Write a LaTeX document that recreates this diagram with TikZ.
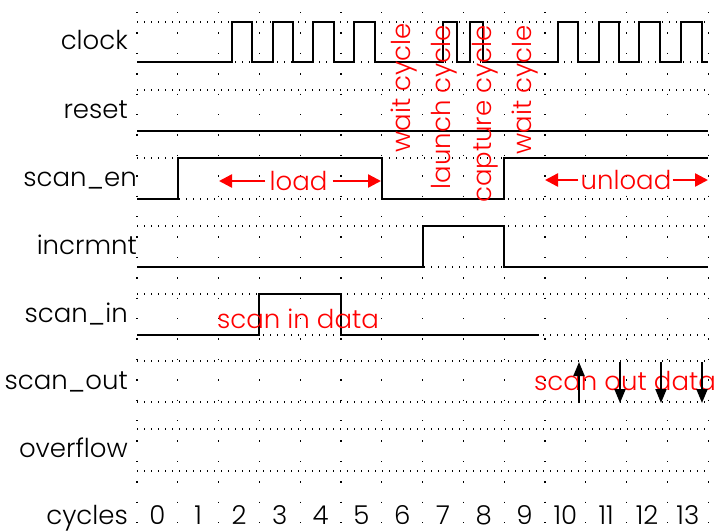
\documentclass[tikz,border=0pt]{standalone}
\usepackage{fontspec}
\IfFontExistsTF{Poppins Light}{\setmainfont{Poppins Light}}{\setmainfont{Poppins}}
\usetikzlibrary{arrows.meta}
\begin{document}
\begin{tikzpicture}[x=1pt,y=-1pt,
  sig/.style={line width=2.4pt, line join=miter},
  hgrid/.style={line width=1.2pt, dash pattern=on 1.2pt off 5.8pt},
  vgrid/.style={line width=1.3pt, dash pattern=on 1.4pt off 19pt},
  lbl/.style={anchor=base east, inner sep=0pt, font=\fontsize{26}{30}\selectfont},
  num/.style={anchor=base, inner sep=0pt, font=\fontsize{26}{30}\selectfont},
  rtext/.style={text=red, inner sep=0pt, font=\fontsize{26}{30}\selectfont},
  rarrow/.style={red, line width=2.4pt, -{Triangle[length=13pt,width=13pt]}},
  barrow/.style={line width=2pt, -{Triangle[length=14pt,width=11pt]}}]
\useasboundingbox (0,0) rectangle (720,531);
% grid
\foreach \i in {0,...,14} \draw[vgrid] ({137+40.8*\i},12) -- ({137+40.8*\i},528);
\foreach \y in {22,62,90,131,158,199,226,267,294,335,361,402,429,471}
  \draw[hgrid] (137,\y) -- (708,\y);
% labels
\node[lbl] (lclock) at (128,49.5) {clock};
\node[lbl] (lreset) at (128,118) {reset};
\node[lbl] (lscanen) at (137,186) {scan\_en};
\node[lbl] (lincr) at (137,254) {incrmnt};
\node[lbl] (lscanin) at (128,322.5) {scan\_in};
\node[lbl] (lscanout) at (128,389) {scan\_out};
\node[lbl] (loverflow) at (128,457.5) {overflow};
\node[lbl] (lcycles) at (128,524) {cycles};
\foreach \i in {0,...,13} \node[num] (c\i) at ({137+40.8*(\i+0.5)},524) {\i};
% waveforms
\draw[sig] (137,62) -- (232,62) -- (232,22) -- (252,22) -- (252,62) -- (273,62) -- (273,22)
  -- (293,22) -- (293,62) -- (313,62) -- (313,22) -- (334,22) -- (334,62) -- (354,62)
  -- (354,22) -- (375,22) -- (375,62) -- (443,62) -- (443,22) -- (457,22) -- (457,62)
  -- (470,62) -- (470,22) -- (483,22) -- (483,62) -- (558,62) -- (558,22) -- (578,22)
  -- (578,62) -- (599,62) -- (599,22) -- (619,22) -- (619,62) -- (639,62) -- (639,22)
  -- (660,22) -- (660,62) -- (681,62) -- (681,22) -- (702,22) -- (702,62) -- (708,62);
\draw[sig] (137,131) -- (708,131);
\draw[sig] (137,199) -- (178,199) -- (178,158) -- (382,158) -- (382,199) -- (504,199)
  -- (504,158) -- (708,158);
\draw[sig] (137,267) -- (423,267) -- (423,226) -- (504,226) -- (504,267) -- (708,267);
\draw[sig] (137,335) -- (259,335) -- (259,294) -- (341,294) -- (341,335) -- (539,335);
% load / unload
\node[rtext] (load) at (298.5,181) {load};
\coordinate (loadL) at (219,181);
\coordinate (loadR) at (381,181);
\draw[rarrow] ([xshift=-4pt]load.west) -- (loadL);
\draw[rarrow] ([xshift=5pt]load.east) -- (loadR);
\node[rtext] (unload) at (626,180) {unload};
\coordinate (unloadL) at (545,180);
\coordinate (unloadR) at (708,180);
\draw[rarrow] ([xshift=-2pt]unload.west) -- (unloadL);
\draw[rarrow] ([xshift=1pt]unload.east) -- (unloadR);
% cycle annotations
\node[rtext, rotate=90, anchor=base east] (wait1) at (410,23) {wait cycle};
\node[rtext, rotate=90, anchor=base east] (launch) at (450,25) {launch cycle};
\node[rtext, rotate=90, anchor=base east] (capture) at (491.5,25) {capture cycle};
\node[rtext, rotate=90, anchor=base east] (wait2) at (531.5,25) {wait cycle};
% scan data
\node[rtext, anchor=base] (sin) at (298,328) {scan in data};
\node[rtext, anchor=base] (sout) at (625,390) {scan out data};
\coordinate (a0b) at (579,403); \coordinate (a0t) at (579,362);
\coordinate (a1b) at (620,403); \coordinate (a1t) at (620,362);
\coordinate (a2b) at (661,403); \coordinate (a2t) at (661,362);
\coordinate (a3b) at (702,403); \coordinate (a3t) at (702,362);
\draw[barrow] (a0b) -- (a0t);
\draw[barrow] (a1t) -- (a1b);
\draw[barrow] (a2t) -- (a2b);
\draw[barrow] (a3t) -- (a3b);
\end{tikzpicture}
\end{document}
